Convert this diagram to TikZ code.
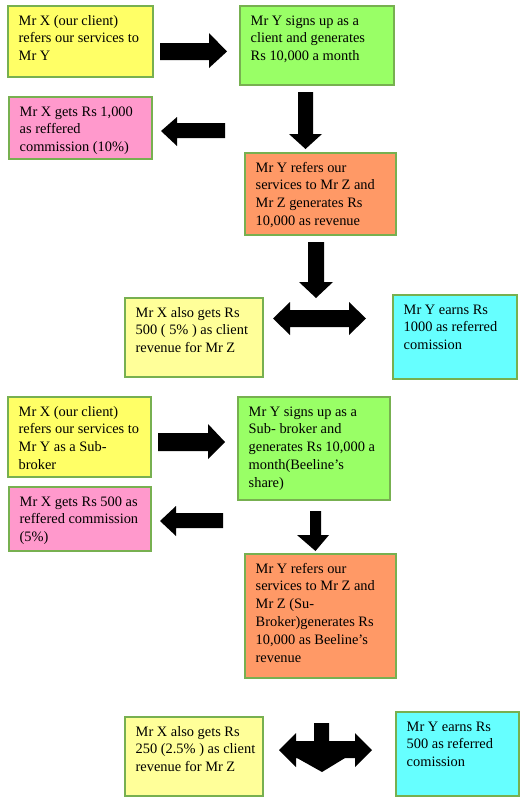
\documentclass[tikz,border=0pt]{standalone}
\usepackage{fontspec}
\setmainfont{Liberation Serif}
\definecolor{bordergreen}{HTML}{77B050}
\definecolor{cYellow}{HTML}{FFFF66}
\definecolor{cGreen}{HTML}{99FF66}
\definecolor{cPink}{HTML}{FF99CC}
\definecolor{cOrange}{HTML}{FF9966}
\definecolor{cPale}{HTML}{FFFF99}
\definecolor{cCyan}{HTML}{66FFFF}
\newcommand\mybox[7]{%
  \node[box, fill=#6, minimum width={(#4)-(#2)}, minimum height={(#5)-(#3)}] (#1) at (#2,#3) {};
  \node[txt] (#1t) at ([xshift=10.5pt,yshift=-6.5pt]#1.north west) {\strut #7};
}
\begin{document}
\begin{tikzpicture}[x=1pt,y=-1pt,
  box/.style={draw=bordergreen, line width=1.1pt, inner sep=0pt, outer sep=0pt, anchor=north west},
  txt/.style={anchor=north west, inner sep=0pt, align=left, font=\fontsize{14.4}{17.8}\selectfont},
  blk/.style={fill=black}]
\useasboundingbox (0,0) rectangle (527,804);

% ---- section 1 ----
\mybox{a}{8}{6}{153}{77}{cYellow}{Mr X (our client)\\refers our services to\\Mr Y}
\mybox{b}{240}{6}{394}{85}{cGreen}{Mr Y signs up as a\\client and generates\\Rs 10,000 a month}
\mybox{c}{9}{97}{152}{159}{cPink}{Mr X gets Rs 1,000\\as reffered\\commission (10\%)}
\mybox{d}{245}{153}{396}{235}{cOrange}{Mr Y refers our\\services to Mr Z and\\Mr Z generates Rs\\10,000 as revenue}
\mybox{e}{125}{298}{263}{377}{cPale}{Mr X also gets Rs\\500 ( 5\% ) as client\\revenue for Mr Z}
\mybox{f}{393}{295}{517}{379}{cCyan}{Mr Y earns Rs\\1000 as referred\\comission}

% arrows section 1
\fill[blk] (160,43) -- (209,43) -- (209,33) -- (227,51.5) -- (209,68) -- (209,60) -- (160,60) -- cycle;
\fill[blk] (225,123) -- (177,123) -- (177,117) -- (161,131) -- (177,146) -- (177,138) -- (225,138) -- cycle;
\fill[blk] (298,92) -- (313,92) -- (313,134) -- (322,134) -- (305.5,149) -- (289,134) -- (298,134) -- cycle;
\fill[blk] (308,242) -- (324,242) -- (324,282) -- (333,282) -- (316,298) -- (299,282) -- (308,282) -- cycle;
\fill[blk] (273,318.5) -- (290,302) -- (290,310) -- (349,310) -- (349,302) -- (366,318.5) -- (349,335) -- (349,327) -- (290,327) -- (290,335) -- cycle;

% ---- section 2 ----
\mybox{g}{8}{397}{151}{477}{cYellow}{Mr X (our client)\\refers our services to\\Mr Y as a Sub-\\broker}
\mybox{h}{238}{397}{390}{500}{cGreen}{Mr Y signs up as a\\Sub- broker and\\generates Rs 10,000 a\\month(Beeline’s\\share)}
\mybox{i}{9}{487}{151}{551}{cPink}{Mr X gets Rs 500 as\\reffered commission\\(5\%)}
\mybox{j}{245}{554}{396}{678}{cOrange}{Mr Y refers our\\services to Mr Z and\\Mr Z (Su-\\Broker)generates Rs\\10,000 as Beeline’s\\revenue}
\mybox{k}{125}{717}{263}{796}{cPale}{Mr X also gets Rs\\250 (2.5\% ) as client\\revenue for Mr Z}
\mybox{l}{396}{712}{519}{796}{cCyan}{Mr Y earns Rs\\500 as referred\\comission}

% arrows section 2
\fill[blk] (158,433) -- (208,433) -- (208,424) -- (225,442) -- (208,459) -- (208,451) -- (158,451) -- cycle;
\fill[blk] (223,513) -- (176,513) -- (176,506) -- (160,521) -- (176,536) -- (176,528) -- (223,528) -- cycle;
\fill[blk] (310,511) -- (321,511) -- (321,535) -- (329,535) -- (315.5,551) -- (297,535) -- (310,535) -- cycle;
\fill[blk] (279,750) -- (296,733) -- (296,741) -- (355,741) -- (355,733) -- (372,750) -- (355,767) -- (355,758) -- (296,758) -- (296,767) -- cycle;
\fill[blk] (314,723) -- (329,723) -- (329,758) -- (345,758) -- (322,772) -- (297,758) -- (314,758) -- cycle;
\end{tikzpicture}
\end{document}
